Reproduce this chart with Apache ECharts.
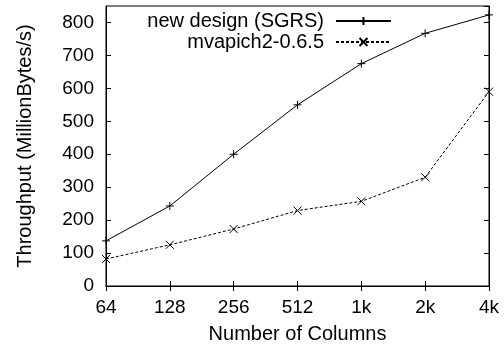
<!DOCTYPE html>
<html><head><meta charset="utf-8">
<script src="https://cdn.jsdelivr.net/npm/echarts@6/dist/echarts.min.js"></script>
<style>html,body{margin:0;padding:0;background:#fff}#c{width:504px;height:349px}</style>
</head><body><div id="c"></div>
<script>
const categories = ['64', '128', '256', '512', '1k', '2k', '4k'];
const sgrs = [137, 243, 400, 550, 675, 767, 823];
const mvapich = [82, 125, 173, 229, 257, 330, 590];
const seriesNames = ['new design (SGRS)', 'mvapich2-0.6.5'];
const yTicks = {min: 0, max: 850, interval: 100};

const FONT = 'Liberation Sans';
const plusPath = 'path://M0,5L10,5M5,0L5,10';
const crossPath = 'path://M0,0L10,10M10,0L0,10';
const txt = {color: '#000', fontFamily: FONT, fontSize: 19};
const big = {color: '#000', fontFamily: FONT, fontSize: 20};
const chart = echarts.init(document.getElementById('c'), null, {renderer: 'canvas'});
const axLine = {show: true, lineStyle: {color: '#000', width: 1}};
const legendBase = {right: 112, orient: 'vertical', align: 'right', itemWidth: 55, itemHeight: 10, padding: 0,
  textStyle: Object.assign({padding: [0, 7, 0, 0]}, big), inactiveColor: '#000', selectedMode: false};
chart.setOption({
  animation: false,
  backgroundColor: '#fff',
  grid: {left: 106, right: 15, top: 6, bottom: 63, show: true, borderColor: '#000', borderWidth: 1, backgroundColor: 'transparent'},
  legend: [
    Object.assign({data: [seriesNames[0]], top: 11}, legendBase),
    Object.assign({data: [seriesNames[1]], top: 32}, legendBase)
  ],
  xAxis: [
    {type: 'category', data: categories, boundaryGap: false,
     name: 'Number of Columns', nameLocation: 'middle', nameGap: 38, nameTextStyle: big,
     axisLine: axLine, axisTick: {show: true, inside: true, length: 5, alignWithLabel: true, lineStyle: {color: '#000'}},
     axisLabel: Object.assign({margin: 12}, txt), splitLine: {show: false}},
    {type: 'category', data: categories, boundaryGap: false, position: 'top',
     axisLine: axLine, axisTick: {show: true, inside: true, length: 5, lineStyle: {color: '#000'}},
     axisLabel: {show: false}, splitLine: {show: false}}
  ],
  yAxis: [
    {type: 'value', min: yTicks.min, max: yTicks.max, interval: yTicks.interval,
     name: 'Throughput (MillionBytes/s)', nameLocation: 'middle', nameGap: 71, nameTextStyle: big,
     axisLine: axLine, axisTick: {show: true, inside: true, length: 5, lineStyle: {color: '#000'}},
     axisLabel: Object.assign({margin: 12, showMaxLabel: false}, txt), splitLine: {show: false}},
    {type: 'value', min: yTicks.min, max: yTicks.max, interval: yTicks.interval, position: 'right',
     axisLine: axLine, axisTick: {show: true, inside: true, length: 5, lineStyle: {color: '#000'}},
     axisLabel: {show: false}, splitLine: {show: false}}
  ],
  series: [
    {name: seriesNames[0], type: 'line', data: sgrs, symbol: plusPath, symbolSize: 8, clip: false,
     lineStyle: {color: '#000', width: 1}, itemStyle: {color: '#000', borderColor: '#000', borderWidth: 1}},
    {name: seriesNames[1], type: 'line', data: mvapich, symbol: crossPath, symbolSize: 8, clip: false,
     lineStyle: {color: '#000', width: 1, type: [3, 2]}, itemStyle: {color: '#000', borderColor: '#000', borderWidth: 1}}
  ]
});
</script></body></html>
